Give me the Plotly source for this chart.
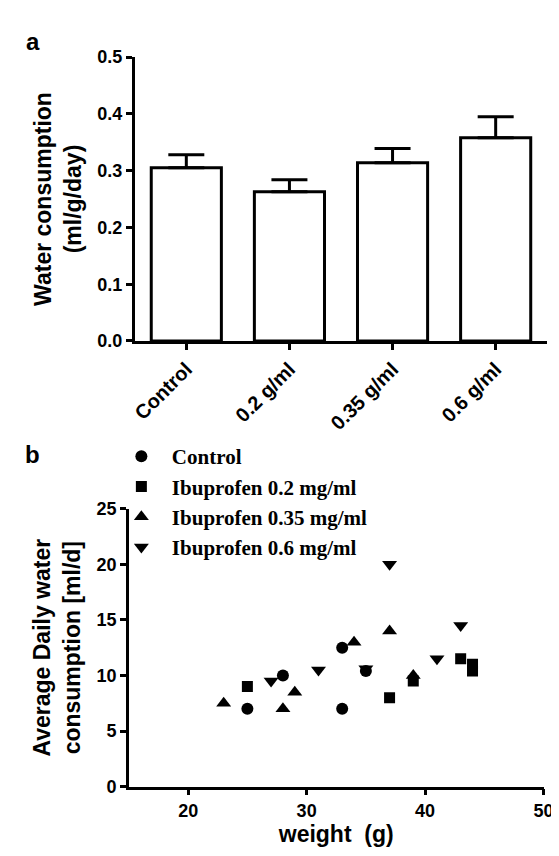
import plotly.graph_objects as go

# ---- Panel a data ----
groups = ["Control", "0.2 g/ml", "0.35 g/ml", "0.6 g/ml"]
water_mean = [0.305, 0.263, 0.314, 0.358]
water_upper = [0.328, 0.284, 0.339, 0.395]

# ---- Panel b data ----
control_w = [25, 28, 33, 33, 35]
control_c = [7, 10, 12.5, 7, 10.4]
ibu02_w = [25, 37, 39, 43, 44, 44]
ibu02_c = [9, 8, 9.5, 11.5, 11, 10.4]
ibu035_w = [23, 28, 29, 34, 37, 39]
ibu035_c = [7.5, 7, 8.5, 13, 14, 10]
ibu06_w = [27, 31, 35, 37, 41, 43]
ibu06_c = [9.5, 10.5, 10.6, 20, 11.5, 14.5]

SANS = "Liberation Sans"
SERIF = "Liberation Serif"

fig = go.Figure()

err_plus = [u - m for u, m in zip(water_upper, water_mean)]
fig.add_trace(go.Bar(
    x=groups, y=water_mean, xaxis="x", yaxis="y",
    marker=dict(color="white", line=dict(color="black", width=3)),
    width=0.68,
    error_y=dict(type="data", symmetric=False, array=err_plus,
                 arrayminus=[0] * len(groups), color="black",
                 thickness=3, width=18),
    showlegend=False,
))

scatter_sets = [
    ("Control", control_w, control_c, "circle", 12),
    ("Ibuprofen 0.2 mg/ml", ibu02_w, ibu02_c, "square", 11),
    ("Ibuprofen 0.35 mg/ml", ibu035_w, ibu035_c, "triangle-up", 13),
    ("Ibuprofen 0.6 mg/ml", ibu06_w, ibu06_c, "triangle-down", 13),
]
for name, xs, ys, sym, sz in scatter_sets:
    fig.add_trace(go.Scatter(
        x=xs, y=ys, mode="markers", name="\u00a0\u00a0" + name,
        xaxis="x2", yaxis="y2",
        marker=dict(symbol=sym, size=sz, color="black", line=dict(width=0)),
    ))

W, H = 559, 856

def px_x(p):
    return p / W

def px_y(p):
    return 1 - p / H

axis_common = dict(
    showline=True, linecolor="black", linewidth=2.5,
    ticks="outside", ticklen=6, tickwidth=2.5, tickcolor="black",
    showgrid=False, zeroline=False,
)
tick_font = dict(family=SANS, size=18, color="black", weight="bold")
title_font = dict(family=SANS, size=23, color="black", weight="bold")

fig.update_layout(
    width=W, height=H,
    margin=dict(l=0, r=0, t=0, b=0),
    paper_bgcolor="white", plot_bgcolor="white",
    xaxis=dict(domain=[px_x(126.7), px_x(549)], anchor="y",
               range=[-0.5, 3.5], tickangle=-45,
               tickfont=dict(family=SANS, size=20, color="black", weight="bold"),
               **axis_common),
    yaxis=dict(domain=[px_y(330.7), px_y(40)], anchor="x",
               range=[0, 0.5], tickvals=[0, 0.1, 0.2, 0.3, 0.4, 0.5],
               ticktext=["0.0", "0.1", "0.2", "0.3", "0.4", "0.5"],
               tickfont=tick_font,
               title=dict(text="Water consumption<br>(ml/g/day)", standoff=10,
                          font=title_font),
               **axis_common),
    xaxis2=dict(domain=[px_x(120.7), px_x(545.3)], anchor="y2",
                range=[15, 50], tickvals=[20, 30, 40, 50],
                tickfont=tick_font,
                title=dict(text="weight  (g)", standoff=6, font=title_font),
                **axis_common),
    yaxis2=dict(domain=[px_y(787), px_y(502.5)], anchor="x2",
                range=[0, 25], tickvals=[0, 5, 10, 15, 20, 25],
                tickfont=tick_font,
                title=dict(text="Average Daily water<br>consumption [ml/d]", standoff=10,
                           font=title_font),
                **axis_common),
    legend=dict(x=px_x(113), y=px_y(428), xanchor="left", yanchor="top",
                bgcolor="rgba(0,0,0,0)", tracegroupgap=0,
                font=dict(family=SERIF, size=21, color="black", weight="bold")),
    annotations=[
        dict(text="a", x=px_x(23), y=px_y(24), xref="paper", yref="paper",
             xanchor="center", yanchor="middle", showarrow=False,
             font=dict(family=SANS, size=24, color="black", weight="bold")),
        dict(text="b", x=px_x(22), y=px_y(447), xref="paper", yref="paper",
             xanchor="center", yanchor="middle", showarrow=False,
             font=dict(family=SANS, size=24, color="black", weight="bold")),
    ],
)

fig.write_html("out.html")
